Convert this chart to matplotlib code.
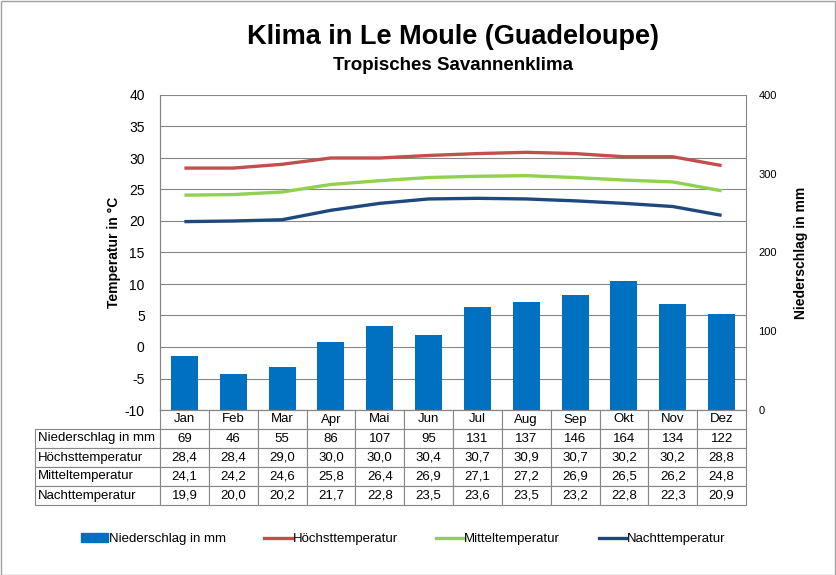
import matplotlib
matplotlib.use('Agg')
import matplotlib.pyplot as plt
from matplotlib.patches import Rectangle, Patch
from matplotlib.lines import Line2D
import numpy as np

plt.rcParams['font.family'] = ['Liberation Sans', 'DejaVu Sans']
plt.rcParams['axes.unicode_minus'] = False

months = ['Jan', 'Feb', 'Mar', 'Apr', 'Mai', 'Jun', 'Jul', 'Aug', 'Sep', 'Okt', 'Nov', 'Dez']
rain = [69, 46, 55, 86, 107, 95, 131, 137, 146, 164, 134, 122]
t_max = [28.4, 28.4, 29.0, 30.0, 30.0, 30.4, 30.7, 30.9, 30.7, 30.2, 30.2, 28.8]
t_mean = [24.1, 24.2, 24.6, 25.8, 26.4, 26.9, 27.1, 27.2, 26.9, 26.5, 26.2, 24.8]
t_min = [19.9, 20.0, 20.2, 21.7, 22.8, 23.5, 23.6, 23.5, 23.2, 22.8, 22.3, 20.9]

c_rain = '#0070C0'
c_max = '#C0504D'
c_mean = '#92D050'
c_min = '#1F497D'
grid_c = '#868686'

W, H = 836, 575
fig = plt.figure(figsize=(W / 100, H / 100), dpi=100)
fig.patches.append(Rectangle((0.5 / W, 0.5 / H), 1 - 1.5 / W, 1 - 1.5 / H, transform=fig.transFigure,
                             fill=False, edgecolor='#a0a0a0', linewidth=1))

ax = fig.add_axes([160 / W, (H - 410) / H, 586 / W, 315 / H])
ax2 = ax.twinx()

x = np.arange(len(months))
ax2.bar(x, rain, width=0.55, color=c_rain, zorder=2)
ax2.set_ylim(0, 400)
ax2.set_yticks([0, 100, 200, 300, 400])
ax2.tick_params(axis='y', length=0, labelsize=8, pad=9)
ax2.set_ylabel('Niederschlag in mm', fontsize=10, fontweight='bold', labelpad=12)

ax.set_zorder(ax2.get_zorder() + 1)
ax.patch.set_visible(False)
for vals, col in [(t_max, c_max), (t_mean, c_mean), (t_min, c_min)]:
    ax.plot(x, vals, color=col, linewidth=2.4, solid_joinstyle='round', solid_capstyle='butt')

ax.set_xlim(-0.5, 11.5)
ax.set_ylim(-10, 40)
ax.set_yticks(range(-10, 41, 5))
ax.set_xticks([])
ax.tick_params(axis='y', length=0, labelsize=10, pad=11)
ax.set_ylabel('Temperatur in °C', fontsize=10, fontweight='bold', labelpad=3)
for y in range(-5, 41, 5):
    ax2.axhline((y + 10) * 8, color=grid_c, linewidth=0.8, zorder=0)
for a in (ax, ax2):
    for s in ['top', 'right']:
        a.spines[s].set_visible(False)
    a.spines['left'].set_color(grid_c)
    a.spines['bottom'].set_color(grid_c)
    a.spines['left'].set_linewidth(0.8)
ax2.spines['right'].set_visible(True)
ax2.spines['right'].set_color(grid_c)
ax2.spines['right'].set_linewidth(0.8)

# data table below the plot
rows = [[''] + months,
        ['Niederschlag in mm'] + [str(v) for v in rain],
        ['Höchsttemperatur'] + [f'{v:.1f}'.replace('.', ',') for v in t_max],
        ['Mitteltemperatur'] + [f'{v:.1f}'.replace('.', ',') for v in t_mean],
        ['Nachttemperatur'] + [f'{v:.1f}'.replace('.', ',') for v in t_min]]
lab_w = 125 / 586
tbl = ax.table(cellText=rows, bbox=[-lab_w, -95 / 315, 1 + lab_w, 95 / 315],
               colWidths=[lab_w] + [1 / 12] * 12, cellLoc='center')
tbl.auto_set_font_size(False)
tbl.set_fontsize(9.5)
for (r, c), cell in tbl.get_celld().items():
    cell.set_edgecolor(grid_c)
    cell.set_linewidth(0.8)
    if c == 0:
        cell.get_text().set_ha('left')
        cell.PAD = 0.02
    if r == 0 and c == 0:
        cell.visible_edges = ''

cx = 453 / W
fig.text(cx, 1 - 37 / H, 'Klima in Le Moule (Guadeloupe)', ha='center', va='center',
         fontsize=19.5, fontweight='bold')
fig.text(cx, 1 - 65 / H, 'Tropisches Savannenklima', ha='center', va='center',
         fontsize=13.5, fontweight='bold')

handles = [Patch(color=c_rain, label='Niederschlag in mm'),
           Line2D([], [], color=c_max, linewidth=2.4, label='Höchsttemperatur'),
           Line2D([], [], color=c_mean, linewidth=2.4, label='Mitteltemperatur'),
           Line2D([], [], color=c_min, linewidth=2.4, label='Nachttemperatur')]
fig.legend(handles=handles, loc='center', bbox_to_anchor=(403 / W, 1 - 539 / H), ncol=4, frameon=False,
           fontsize=9.5, handlelength=2.1, handletextpad=0.05, columnspacing=2.9, handleheight=0.6)

fig.savefig('out.png', dpi=100)
